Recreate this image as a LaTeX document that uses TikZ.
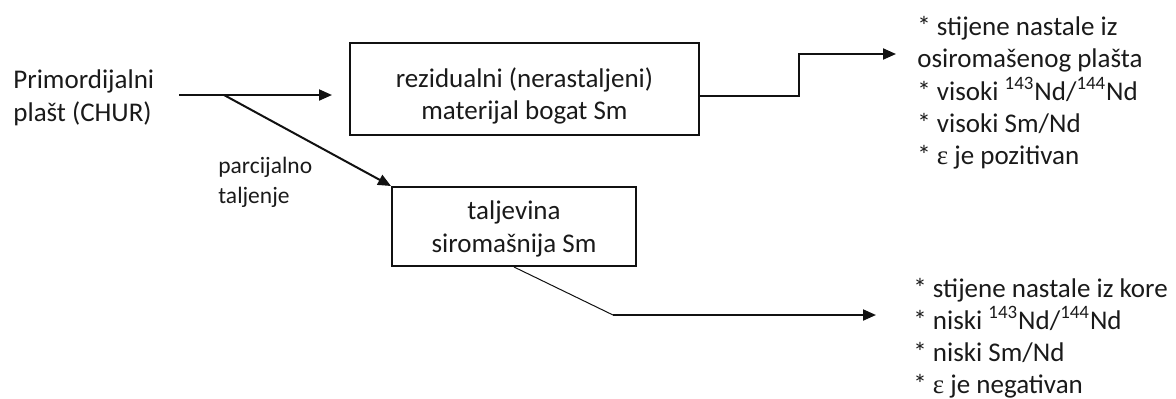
\documentclass[tikz,border=0pt]{standalone}
\usepackage{fontspec}
\setmainfont{Carlito}
\newfontfamily\epsfont{Liberation Serif}
\usetikzlibrary{arrows.meta}
\definecolor{txt}{HTML}{1A1A1A}
\definecolor{ln}{HTML}{111111}
\begin{document}
\begin{tikzpicture}[x=0.5pt,y=-0.5pt,
  big/.style={font=\fontsize{13.5pt}{16pt}\selectfont, inner sep=0pt, text=txt, anchor=base west},
  bigc/.style={font=\fontsize{13.5pt}{16pt}\selectfont, inner sep=0pt, text=txt, anchor=base},
  small/.style={font=\fontsize{11.75pt}{14pt}\selectfont, inner sep=0pt, text=txt, anchor=base west},
  boxst/.style={draw=ln, line width=1pt, inner sep=0pt},
  arr/.style={draw=ln, line width=1pt, -{Triangle[length=6.5pt,width=5.5pt]}},
  thinln/.style={draw=ln, line width=0.5pt}]
\useasboundingbox (0,0) rectangle (1176,398);
% source text
\node[big] (src1) at (13,88) {Primordijalni};
\node[big] (src2) at (13,121) {plašt (CHUR)};
\node[small] (lab1) at (218,173) {parcijalno};
\node[small] (lab2) at (218,203) {taljenje};
% boxes
\node[boxst, minimum width=174.5pt, minimum height=46pt] (box1) at (524.5,89) {};
\node[bigc] (b1a) at (524.5,87) {rezidualni (nerastaljeni)};
\node[bigc] (b1b) at (524.5,119) {materijal bogat Sm};
\node[boxst, minimum width=122pt, minimum height=39.5pt] (box2) at (514,226.5) {};
\node[bigc] (b2a) at (514,219) {taljevina};
\node[bigc] (b2b) at (514,252) {siromašnija Sm};
% right lists
\node[big] (r1) at (917,35) {* stijene nastale iz};
\node[big] (r2) at (917,67) {osiromašenog plašta};
\node[big] (r3) at (917,100) {* visoki \textsuperscript{143}Nd/\textsuperscript{144}Nd};
\node[big] (r4) at (917,132) {* visoki Sm/Nd};
\node[big] (r5) at (917,164) {* {\epsfont ε} je pozitivan};
\node[big] (s1) at (913,297) {* stijene nastale iz kore};
\node[big] (s2) at (913,329) {* niski \textsuperscript{143}Nd/\textsuperscript{144}Nd};
\node[big] (s3) at (913,361) {* niski Sm/Nd};
\node[big] (s4) at (913,393) {* {\epsfont ε} je negativan};
% connectors
\coordinate (a0) at (179,95);
\coordinate (split) at (224,95);
\coordinate (a1) at (332,95);
\draw[arr] (a0) -- (a1);
\draw[arr] (split) -- (box2.north west);
\coordinate (s0) at (box1.east |- 0,96);
\coordinate (st1) at (799,96);
\coordinate (st2) at (799,54);
\coordinate (t1) at (896,54);
\draw[arr] (s0) -- (st1) -- (st2) -- (t1);
\coordinate (k1) at (613,315);
\coordinate (t2) at (876,315);
\draw[thinln] (box2.south) -- (k1);
\draw[arr] (k1) -- (t2);
\end{tikzpicture}
\end{document}
